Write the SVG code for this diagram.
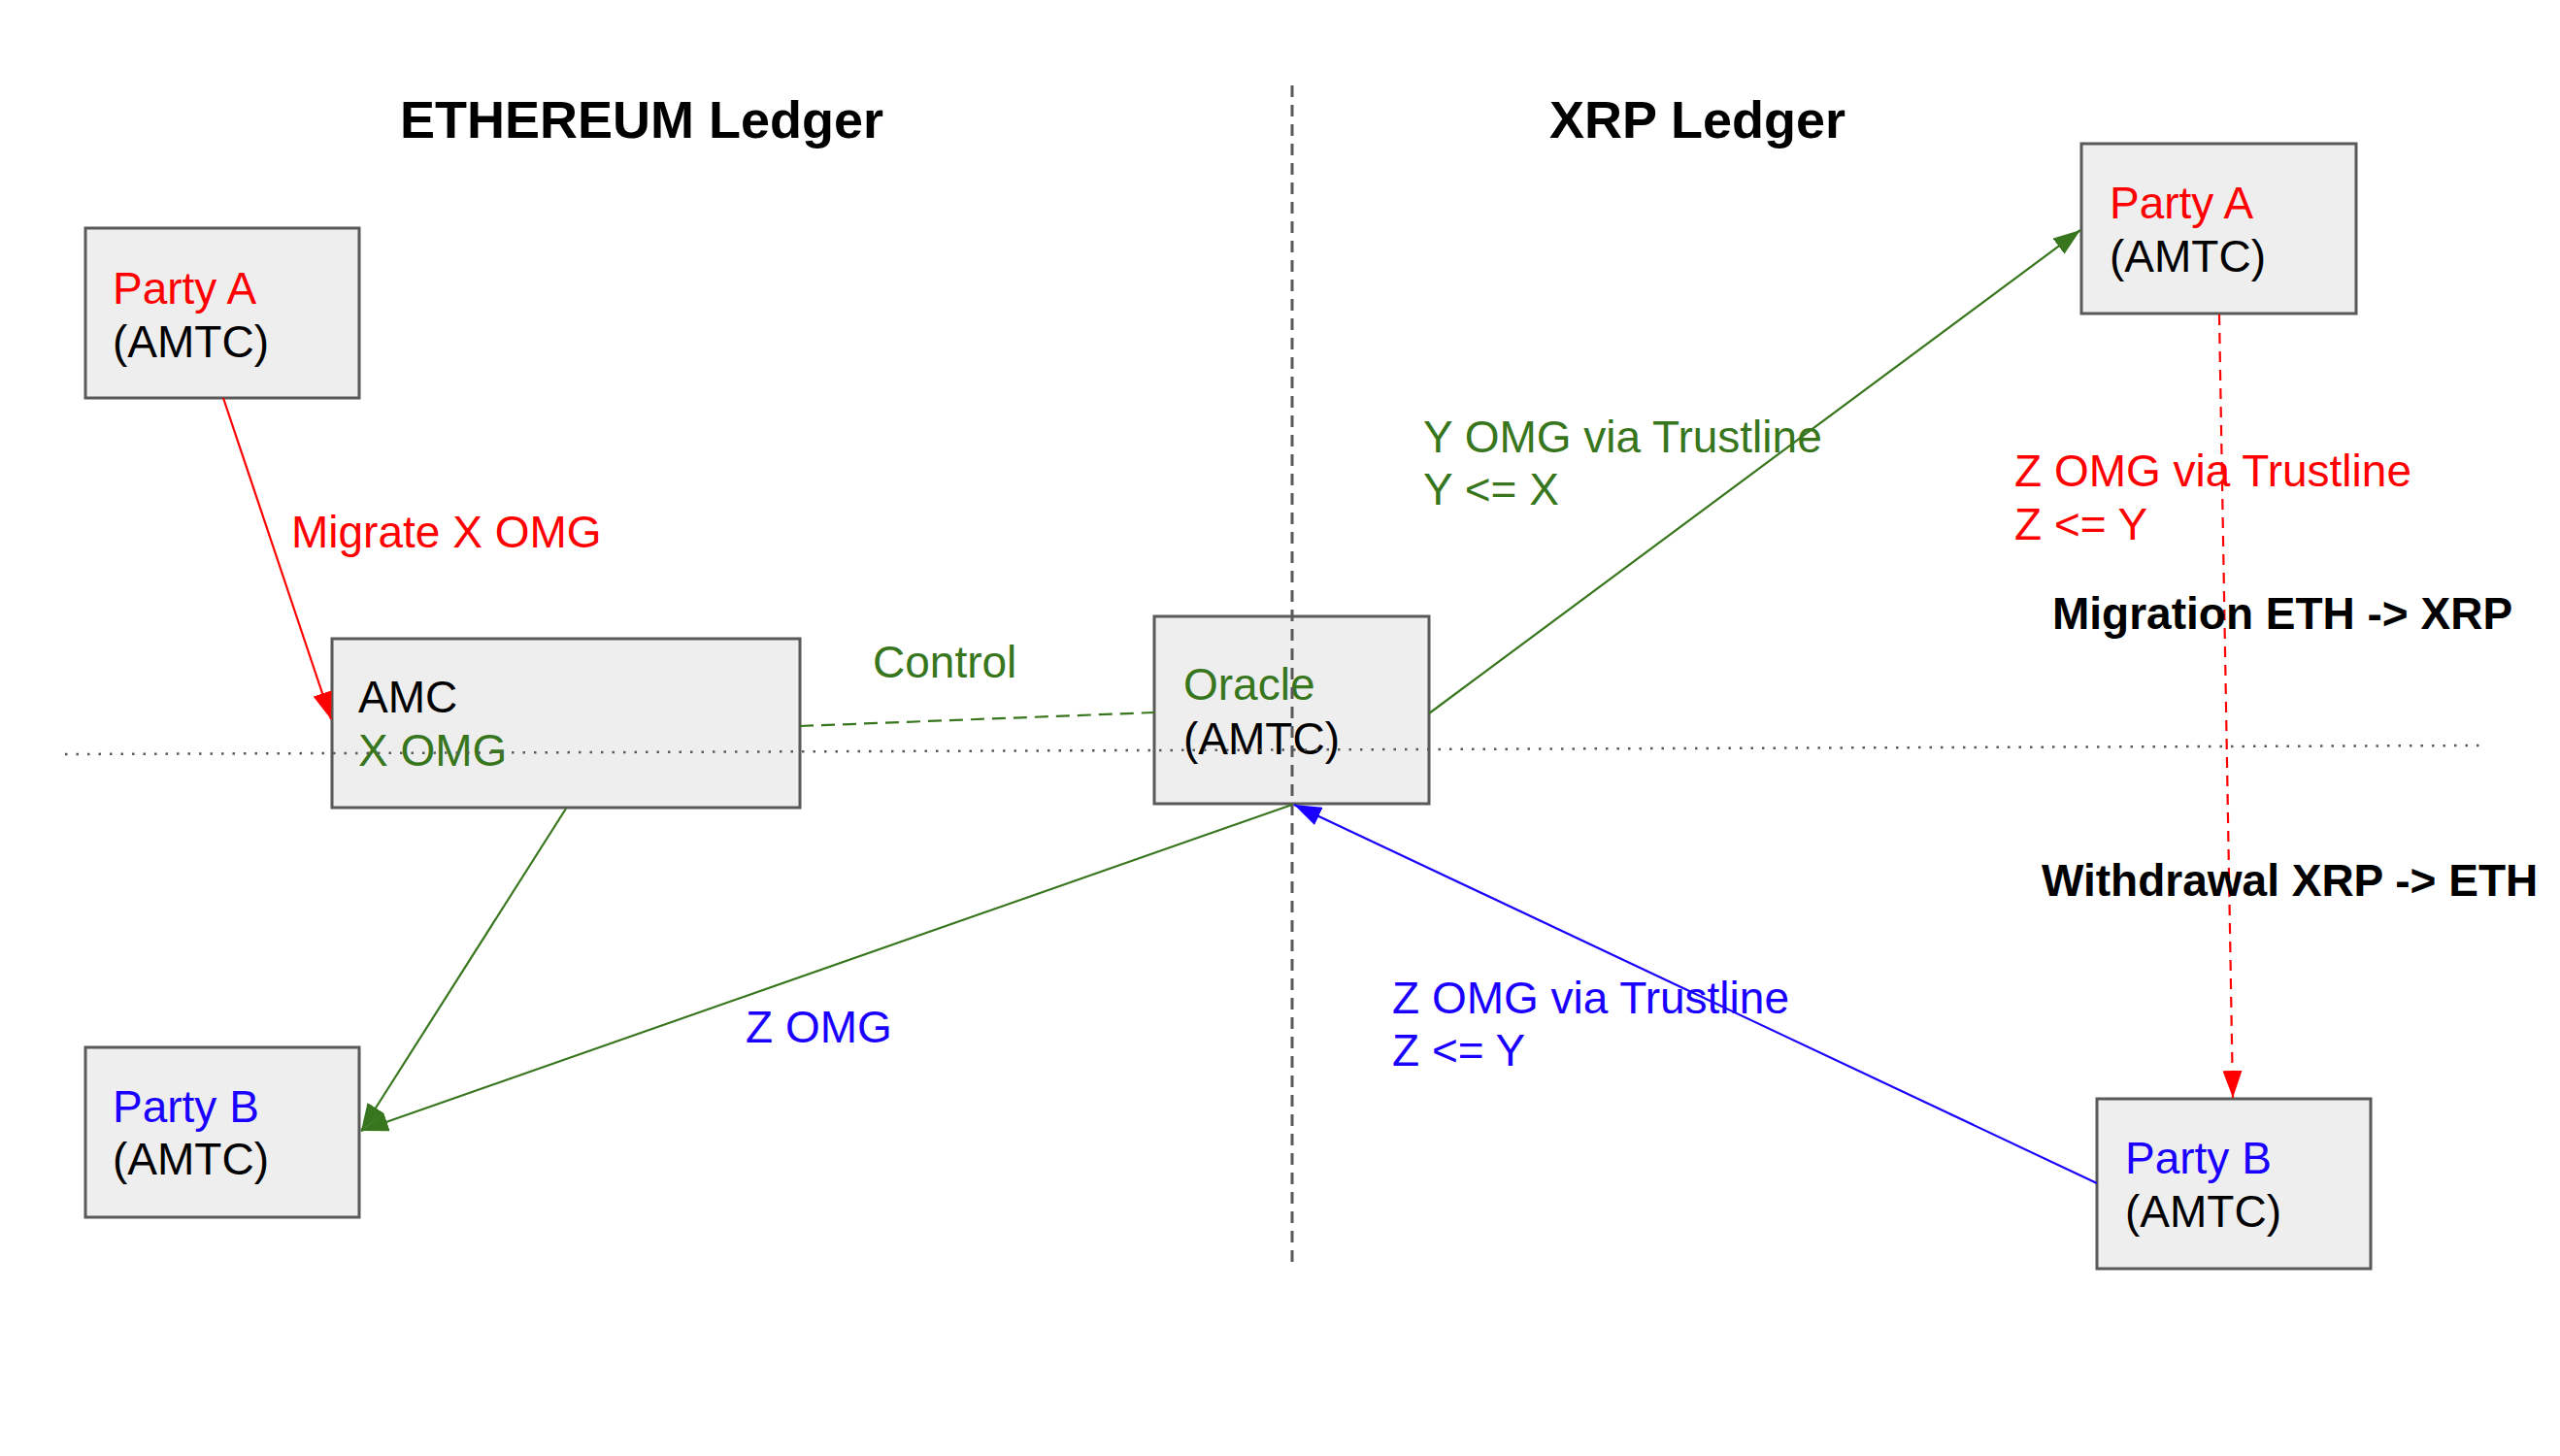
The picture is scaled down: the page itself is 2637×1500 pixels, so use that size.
<svg xmlns="http://www.w3.org/2000/svg" width="2637" height="1500" viewBox="0 0 2637 1500">
<style>
text { font-family: "Liberation Sans", Arial, sans-serif; font-size: 46px; }
.title { font-weight: bold; font-size: 54px; fill: #000; }
.bold { font-weight: bold; fill: #000; }
.red { fill: #ff0000; }
.green { fill: #38761d; }
.blue { fill: #1a00ff; }
.black { fill: #000; }
.box { fill: #eeeeee; stroke: #595959; stroke-width: 3; }
.conn { fill: none; stroke-width: 2.2; }
</style>
<defs>
<marker id="ar" viewBox="0 0 10 10" refX="10" refY="5" markerWidth="28" markerHeight="20" markerUnits="userSpaceOnUse" orient="auto" preserveAspectRatio="none"><path d="M0,0 L10,5 L0,10 z" fill="#ff0000"/></marker>
<marker id="ag" viewBox="0 0 10 10" refX="10" refY="5" markerWidth="28" markerHeight="20" markerUnits="userSpaceOnUse" orient="auto" preserveAspectRatio="none"><path d="M0,0 L10,5 L0,10 z" fill="#38761d"/></marker>
<marker id="ab" viewBox="0 0 10 10" refX="10" refY="5" markerWidth="28" markerHeight="20" markerUnits="userSpaceOnUse" orient="auto" preserveAspectRatio="none"><path d="M0,0 L10,5 L0,10 z" fill="#1a00ff"/></marker>
</defs>
<rect width="2637" height="1500" fill="#ffffff"/>

<g id="titles">
<text class="title" x="412" y="142">ETHEREUM Ledger</text>
<text class="title" x="1596" y="142">XRP Ledger</text>
</g>

<g id="eth-party-a">
<rect class="box" x="88" y="235" width="282" height="175"/>
<text class="red" x="116" y="313">Party A</text>
<text class="black" x="116" y="368">(AMTC)</text>
</g>

<g id="amc">
<rect class="box" x="342" y="658" width="482" height="174"/>
<text class="black" x="369" y="734">AMC</text>
<text class="green" x="369" y="789">X OMG</text>
</g>

<g id="oracle">
<rect class="box" x="1189" y="635" width="283" height="193"/>
<text class="green" x="1219" y="721">Oracle</text>
<text class="black" x="1219" y="777">(AMTC)</text>
</g>

<g id="eth-party-b">
<rect class="box" x="88" y="1079" width="282" height="175"/>
<text class="blue" x="116" y="1156">Party B</text>
<text class="black" x="116" y="1210">(AMTC)</text>
</g>

<g id="xrp-party-a">
<rect class="box" x="2144" y="148" width="283" height="175"/>
<text class="red" x="2173" y="225">Party A</text>
<text class="black" x="2173" y="280">(AMTC)</text>
</g>

<g id="xrp-party-b">
<rect class="box" x="2160" y="1132" width="282" height="175"/>
<text class="blue" x="2189" y="1209">Party B</text>
<text class="black" x="2189" y="1264">(AMTC)</text>
</g>

<g id="dividers">
<line x1="1331" y1="88" x2="1331" y2="1300" stroke="#595959" stroke-width="3" stroke-dasharray="12 8"/>
<line x1="67" y1="777" x2="2561" y2="768" stroke="#595959" stroke-width="2.5" stroke-dasharray="2.5 9"/>
</g>

<g id="connectors">
<line class="conn" x1="230" y1="410" x2="341" y2="741" stroke="#ff0000" marker-end="url(#ar)"/>
<line class="conn" x1="824" y1="748" x2="1189" y2="734" stroke="#38761d" stroke-width="2.8" stroke-dasharray="14 8"/>
<line class="conn" x1="583" y1="833" x2="372" y2="1165" stroke="#38761d" marker-end="url(#ag)"/>
<line class="conn" x1="1331" y1="829" x2="372" y2="1165" stroke="#38761d" marker-end="url(#ag)"/>
<line class="conn" x1="1472" y1="735" x2="2143" y2="237" stroke="#38761d" marker-end="url(#ag)"/>
<line class="conn" x1="2160" y1="1219" x2="1333" y2="829" stroke="#1a00ff" marker-end="url(#ab)"/>
<line class="conn" x1="2286" y1="324" x2="2300" y2="1131" stroke="#ff0000" stroke-dasharray="11 8" marker-end="url(#ar)"/>
</g>

<g id="labels">
<text class="red" x="300" y="564">Migrate X OMG</text>
<text class="green" x="899" y="698">Control</text>
<text class="green" x="1466" y="466">Y OMG via Trustline</text>
<text class="green" x="1466" y="520">Y &lt;= X</text>
<text class="red" x="2075" y="501">Z OMG via Trustline</text>
<text class="red" x="2075" y="556">Z &lt;= Y</text>
<text class="bold" x="2114" y="648">Migration ETH -&gt; XRP</text>
<text class="bold" x="2103" y="923">Withdrawal XRP -&gt; ETH</text>
<text class="blue" x="768" y="1074">Z OMG</text>
<text class="blue" x="1434" y="1044">Z OMG via Trustline</text>
<text class="blue" x="1434" y="1098">Z &lt;= Y</text>
</g>
</svg>
